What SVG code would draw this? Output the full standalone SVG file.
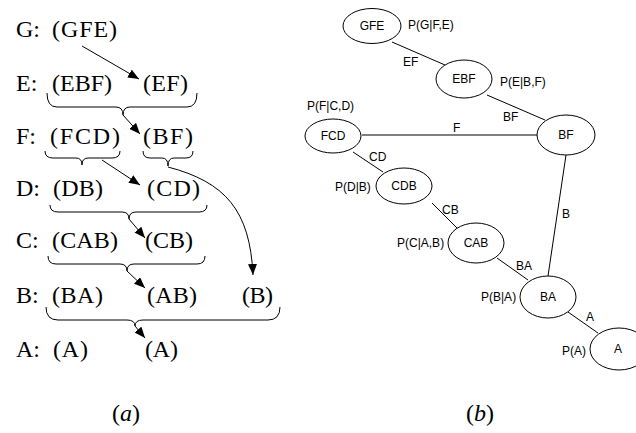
<svg xmlns="http://www.w3.org/2000/svg" width="636" height="433" viewBox="0 0 636 433">
<defs>
<marker id="ah" markerUnits="userSpaceOnUse" markerWidth="11" markerHeight="9" refX="11" refY="4.5" orient="auto">
<path d="M0,0 L11,4.5 L0,9 z" fill="#000"/>
</marker>
<style>
.t{font-family:"Liberation Serif","Times New Roman",serif;font-size:24px;fill:#000}
.s{font-family:"Liberation Sans",Arial,sans-serif;font-size:12px;fill:#000}
.c{text-anchor:middle}
.br{fill:none;stroke:#000;stroke-width:1}
.ar{fill:none;stroke:#000;stroke-width:1;marker-end:url(#ah)}
.e{fill:#fff;stroke:#000;stroke-width:1}
.ln{stroke:#000;stroke-width:1}
</style>
</defs>
<rect width="636" height="433" fill="#fff"/>

<g id="panel-a">
<g id="row-G">
<text class="t" x="16" y="37">G:</text>
<text class="t" x="52" y="37" textLength="65" lengthAdjust="spacing">(GFE)</text>
</g>
<g id="row-E">
<text class="t" x="16" y="91">E:</text>
<text class="t" x="52" y="91" textLength="60" lengthAdjust="spacing">(EBF)</text>
<text class="t" x="143" y="91" textLength="45" lengthAdjust="spacing">(EF)</text>
</g>
<g id="row-F">
<text class="t" x="16" y="144">F:</text>
<text class="t" x="50" y="144" textLength="70" lengthAdjust="spacing">(FCD)</text>
<text class="t" x="143" y="144" textLength="50" lengthAdjust="spacing">(BF)</text>
</g>
<g id="row-D">
<text class="t" x="16" y="196">D:</text>
<text class="t" x="53" y="196" textLength="50" lengthAdjust="spacing">(DB)</text>
<text class="t" x="147" y="196" textLength="53" lengthAdjust="spacing">(CD)</text>
</g>
<g id="row-C">
<text class="t" x="16" y="248">C:</text>
<text class="t" x="52" y="248" textLength="66" lengthAdjust="spacing">(CAB)</text>
<text class="t" x="145" y="248" textLength="48" lengthAdjust="spacing">(CB)</text>
</g>
<g id="row-B">
<text class="t" x="16" y="303">B:</text>
<text class="t" x="52" y="303" textLength="51" lengthAdjust="spacing">(BA)</text>
<text class="t" x="147" y="303" textLength="50" lengthAdjust="spacing">(AB)</text>
<text class="t" x="242" y="303" textLength="31" lengthAdjust="spacing">(B)</text>
</g>
<g id="row-A">
<text class="t" x="16" y="357">A:</text>
<text class="t" x="53" y="357" textLength="35" lengthAdjust="spacing">(A)</text>
<text class="t" x="145" y="357" textLength="33" lengthAdjust="spacing">(A)</text>
</g>
<text class="t c" x="126" y="421">(<tspan font-style="italic">a</tspan>)</text>

<g id="braces-a">
<path class="br" d="M47,93 Q47,107 57,107 L116,107 Q123,107 123,115 Q123,107 130,107 L187,107 Q197,107 197,93"/>
<path class="br" d="M45,151 Q45,158 53,158 L76,158 Q82,158 82,165 Q82,158 88,158 L112,158 Q120,158 120,151"/>
<path class="br" d="M143,151 Q143,158 150,158 L162,158 Q168,158 168,166 Q168,158 174,158 L186,158 Q193,158 193,151"/>
<path class="br" d="M50,205 Q50,212 58,212 L122,212 Q129,212 129,219 Q129,212 136,212 L199,212 Q207,212 207,205"/>
<path class="br" d="M48,256 Q48,264 56,264 L120,264 Q127,264 127,271 Q127,264 134,264 L197,264 Q205,264 205,256"/>
<path class="br" d="M46,307 Q46,320 58,320 L127,320 Q135,320 135,326 Q135,320 143,320 L268,320 Q280,320 280,307"/>
</g>
<g id="connectors-a">
<line class="ar" x1="82" y1="46" x2="139" y2="79"/>
<path class="ar" d="M123,115 L140,134"/>
<path class="ar" d="M102,160 L140,185"/>
<path class="ar" d="M168,167 C225,182 250,210 253,275"/>
<path class="ar" d="M129,219 L145,238"/>
<path class="ar" d="M127,271 L145,288"/>
<path class="ar" d="M135,326 L145,338"/>
</g>
</g>

<g id="panel-b">
<g id="connectors-b">
<line class="ln" x1="392" y1="42" x2="445" y2="65"/>
<line class="ln" x1="487" y1="95" x2="545" y2="120"/>
<line class="ln" x1="362" y1="135" x2="537" y2="135"/>
<line class="ln" x1="353" y1="152" x2="383" y2="172"/>
<line class="ln" x1="432" y1="203" x2="457" y2="228"/>
<line class="ln" x1="497" y1="258" x2="528" y2="280"/>
<line class="ln" x1="566" y1="155" x2="548" y2="276"/>
<line class="ln" x1="568" y1="312" x2="598" y2="333"/>
</g>
<g id="node-GFE"><ellipse class="e" cx="372" cy="26" rx="29" ry="17.5"/><text class="s c" x="372" y="30">GFE</text></g>
<g id="node-EBF"><ellipse class="e" cx="464" cy="79" rx="28" ry="19"/><text class="s c" x="464" y="83">EBF</text></g>
<g id="node-FCD"><ellipse class="e" cx="333" cy="136" rx="28" ry="17"/><text class="s c" x="333" y="140">FCD</text></g>
<g id="node-BF"><ellipse class="e" cx="566" cy="135" rx="29" ry="20"/><text class="s c" x="566" y="139">BF</text></g>
<g id="node-CDB"><ellipse class="e" cx="404" cy="186" rx="28" ry="18"/><text class="s c" x="404" y="190">CDB</text></g>
<g id="node-CAB"><ellipse class="e" cx="476" cy="243" rx="28" ry="20"/><text class="s c" x="476" y="247">CAB</text></g>
<g id="node-BA"><ellipse class="e" cx="548" cy="297" rx="28" ry="21"/><text class="s c" x="548" y="301">BA</text></g>
<g id="node-A"><ellipse class="e" cx="619" cy="349" rx="29" ry="21"/><text class="s c" x="618" y="353">A</text></g>
<g id="labels-b">
<text class="s" x="408" y="29">P(G|F,E)</text>
<text class="s" x="403" y="66">EF</text>
<text class="s" x="500" y="86">P(E|B,F)</text>
<text class="s" x="307" y="110">P(F|C,D)</text>
<text class="s" x="503" y="121">BF</text>
<text class="s" x="453" y="132">F</text>
<text class="s" x="369" y="161">CD</text>
<text class="s" x="335" y="191">P(D|B)</text>
<text class="s" x="442" y="214">CB</text>
<text class="s" x="562" y="218">B</text>
<text class="s" x="397" y="247">P(C|A,B)</text>
<text class="s" x="516" y="270">BA</text>
<text class="s" x="481" y="301">P(B|A)</text>
<text class="s" x="586" y="321">A</text>
<text class="s" x="562" y="355">P(A)</text>
</g>
<text class="t c" x="480" y="421">(<tspan font-style="italic">b</tspan>)</text>
</g>
</svg>
